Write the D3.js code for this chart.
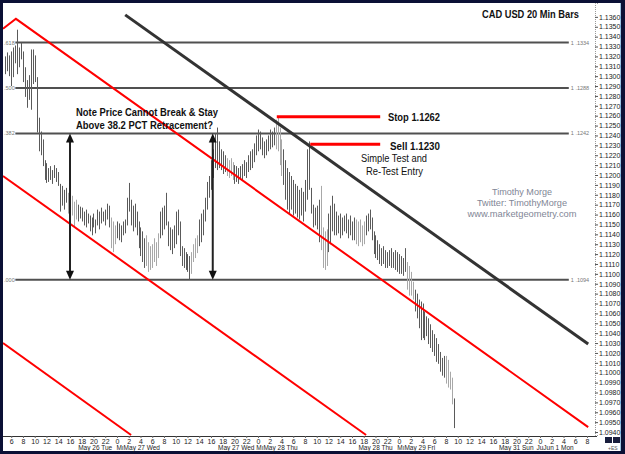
<!DOCTYPE html>
<html>
<head>
<meta charset="utf-8">
<script src="https://cdnjs.cloudflare.com/ajax/libs/d3/7.8.5/d3.min.js"></script>
<style>
body { margin: 0; background: #0b1035; }
svg { display: block; font-family: Arial, "Liberation Sans", sans-serif; }
</style>
</head>
<body>
<div id="chart"></div>
<script>
var width = 625;
var height = 454;

// 20 minute bars, first bar at May 26 05:00 (hours counted from May 26 00:00)
var firstBarHour = 5;
var barHighs = [
  1.1320,1.1324,1.1321,1.1325,1.1329,1.1331,1.1347,1.1329,1.1334,1.1325,
  1.1309,1.1296,1.1301,1.1327,1.1327,1.1321,1.1299,1.1258,1.1244,1.1236,
  1.1215,1.1212,1.1207,1.1209,1.1205,1.1210,1.1207,1.1203,1.1191,1.1189,
  1.1185,1.1187,1.1182,1.1177,1.1179,1.1173,1.1175,1.1170,1.1168,1.1167,
  1.1163,1.1165,1.1161,1.1159,1.1157,1.1161,1.1155,1.1165,1.1163,1.1167,
  1.1163,1.1165,1.1171,1.1169,1.1157,1.1153,1.1149,1.1153,1.1151,1.1149,
  1.1153,1.1155,1.1177,1.1192,1.1175,1.1169,1.1171,1.1163,1.1153,1.1147,
  1.1143,1.1136,1.1139,1.1132,1.1128,1.1130,1.1136,1.1132,1.1141,1.1163,
  1.1167,1.1169,1.1182,1.1153,1.1147,1.1145,1.1149,1.1163,1.1165,1.1153,
  1.1128,1.1126,1.1122,1.1120,1.1118,1.1122,1.1130,1.1136,1.1139,1.1155,
  1.1161,1.1165,1.1177,1.1193,1.1199,1.1215,1.1226,1.1242,1.1248,1.1234,
  1.1226,1.1224,1.1220,1.1217,1.1215,1.1217,1.1213,1.1210,1.1209,1.1207,
  1.1209,1.1211,1.1215,1.1213,1.1220,1.1224,1.1226,1.1232,1.1240,1.1246,
  1.1244,1.1238,1.1234,1.1236,1.1240,1.1246,1.1244,1.1248,1.1256,1.1258,
  1.1248,1.1236,1.1226,1.1215,1.1207,1.1203,1.1199,1.1195,1.1191,1.1189,
  1.1185,1.1187,1.1183,1.1195,1.1226,1.1234,1.1187,1.1170,1.1167,1.1169,
  1.1175,1.1189,1.1147,1.1143,1.1145,1.1161,1.1169,1.1179,1.1171,1.1163,
  1.1159,1.1161,1.1157,1.1159,1.1161,1.1155,1.1159,1.1153,1.1157,1.1155,
  1.1153,1.1155,1.1149,1.1153,1.1159,1.1161,1.1165,1.1157,1.1143,1.1139,
  1.1134,1.1130,1.1126,1.1128,1.1124,1.1122,1.1124,1.1126,1.1122,1.1124,
  1.1122,1.1120,1.1118,1.1116,1.1126,1.1112,1.1108,1.1102,1.1092,1.1084,
  1.1080,1.1074,1.1072,1.1070,1.1062,1.1057,1.1055,1.1049,1.1043,1.1039,
  1.1035,1.1029,1.1021,1.1015,1.1017,1.1017,1.1013,1.1001,1.0995,1.0974
];
var barLows = [
  1.1302,1.1305,1.1300,1.1290,1.1299,1.1313,1.1302,1.1309,1.1317,1.1294,
  1.1279,1.1268,1.1276,1.1266,1.1292,1.1294,1.1243,1.1224,1.1220,1.1209,
  1.1195,1.1192,1.1193,1.1195,1.1191,1.1197,1.1193,1.1189,1.1163,1.1169,
  1.1165,1.1172,1.1161,1.1151,1.1159,1.1148,1.1155,1.1153,1.1156,1.1153,
  1.1149,1.1147,1.1151,1.1143,1.1139,1.1147,1.1141,1.1149,1.1145,1.1151,
  1.1153,1.1149,1.1155,1.1147,1.1126,1.1122,1.1130,1.1136,1.1134,1.1132,
  1.1139,1.1141,1.1149,1.1163,1.1149,1.1143,1.1147,1.1139,1.1126,1.1118,
  1.1112,1.1106,1.1108,1.1102,1.1104,1.1106,1.1112,1.1108,1.1116,1.1136,
  1.1139,1.1145,1.1149,1.1128,1.1124,1.1120,1.1126,1.1130,1.1139,1.1118,
  1.1108,1.1106,1.1104,1.1102,1.1094,1.1100,1.1112,1.1116,1.1121,1.1128,
  1.1132,1.1139,1.1153,1.1165,1.1177,1.1185,1.1197,1.1207,1.1205,1.1207,
  1.1205,1.1201,1.1203,1.1199,1.1197,1.1199,1.1195,1.1191,1.1193,1.1191,
  1.1195,1.1195,1.1199,1.1197,1.1203,1.1205,1.1207,1.1213,1.1220,1.1224,
  1.1226,1.1220,1.1217,1.1220,1.1224,1.1226,1.1228,1.1230,1.1226,1.1224,
  1.1210,1.1199,1.1190,1.1175,1.1165,1.1161,1.1165,1.1159,1.1161,1.1157,
  1.1155,1.1159,1.1153,1.1163,1.1175,1.1185,1.1161,1.1147,1.1149,1.1145,
  1.1132,1.1124,1.1106,1.1104,1.1108,1.1122,1.1130,1.1143,1.1139,1.1139,
  1.1141,1.1136,1.1139,1.1143,1.1141,1.1136,1.1139,1.1134,1.1134,1.1130,
  1.1128,1.1132,1.1128,1.1130,1.1139,1.1143,1.1145,1.1134,1.1120,1.1116,
  1.1114,1.1110,1.1108,1.1110,1.1106,1.1106,1.1108,1.1106,1.1106,1.1104,
  1.1102,1.1100,1.1100,1.1098,1.1102,1.1084,1.1078,1.1078,1.1074,1.1062,
  1.1055,1.1045,1.1033,1.1035,1.1033,1.1037,1.1029,1.1025,1.1021,1.1017,
  1.1011,1.1009,1.1001,1.0997,1.0995,1.0989,1.0985,1.0983,1.0968,1.0944
];
// bar index ranges drawn in the lighter grey
var lightBarRanges = [[32,36],[54,56],[72,78],[95,98],[113,116],[138,141],[161,164],[179,183],[205,208],[225,228]];

// fibonacci retracement levels
var fibRatios = ['.618', '.500', '.382', '.000'];
var fibPrices = [1.1334, 1.1288, 1.1242, 1.1094];

// channel lines, points as [hour, price]
var redLines = [
  [[4.6, 1.1348], [6.8, 1.1358], [104.2, 1.0945]],
  [[4.6, 1.1199], [66.4, 1.0937]],
  [[4.6, 1.1030], [26.4, 1.0937]]
];
var blackLine = [[25.4, 1.1362], [104.2, 1.1029]];

var stopPrice = 1.1259, sellPrice = 1.1231;
var stopHours = [51.2, 68.8], sellHours = [56.9, 68.8];
var arrowHours = [16.0, 40.3];

var hourTicks = d3.range(6, 105, 2);
var dateLabels = [
  {hour: 17.4, text: 'May 26 Tue'},
  {hour: 23.9, text: 'MıMay 27 Wed'},
  {hour: 41.2, text: 'May 27 Wed'},
  {hour: 47.7, text: 'MıMay 28 Thu'},
  {hour: 65.1, text: 'May 28 Thu'},
  {hour: 71.7, text: 'MıMay 29 Fri'},
  {hour: 89.0, text: 'May 31 Sun'},
  {hour: 95.4, text: 'JuJun 1 Mon'}
];
var priceTicks = d3.range(1094, 1137).map(function(k) { return k / 1000; });

var x = d3.scaleLinear().domain([4.6, 105.7]).range([3, 597]);
var y = d3.scaleLinear().domain([1.0937, 1.1374]).range([435, 3]);

var svg = d3.select('#chart').append('svg')
    .attr('width', width)
    .attr('height', height);

svg.append('rect').attr('width', width).attr('height', height).attr('fill', '#0b1035');
svg.append('rect').attr('x', 3).attr('y', 3).attr('width', 617).attr('height', 448).attr('fill', '#ffffff');
svg.append('line').attr('x1', 620.5).attr('x2', 620.5).attr('y1', 3).attr('y2', 451)
    .attr('stroke', '#9ec3e0');

svg.append('clipPath').attr('id', 'plotclip')
  .append('rect').attr('x', 3).attr('y', 3).attr('width', 594).attr('height', 433);

var plot = svg.append('g').attr('clip-path', 'url(#plotclip)');

// fib lines
var fibStart = 6.7, fibEnd = 100.9;
fibPrices.forEach(function(p, i) {
  plot.append('line')
    .attr('x1', x(fibStart)).attr('x2', x(fibEnd))
    .attr('y1', y(p)).attr('y2', y(p))
    .attr('stroke', '#505050').attr('stroke-width', 2);
  svg.append('text')
    .attr('x', 4).attr('y', y(p) + 2)
    .attr('font-size', 5.5).attr('fill', '#777')
    .text(fibRatios[i]);
  svg.append('text')
    .attr('x', x(fibEnd) + 2).attr('y', y(p) + 2)
    .attr('font-size', 5.5).attr('fill', '#777')
    .text(p.toFixed(4).replace('1.', '1 .'));
});

// price bars
function isLight(i) {
  return lightBarRanges.some(function(r) { return i >= r[0] && i <= r[1]; });
}
plot.selectAll('.bar')
  .data(barHighs)
  .enter()
  .append('line')
  .attr('class', 'bar')
  .attr('x1', function(d, i) { return Math.round(x(firstBarHour + i / 3)) + 0.5; })
  .attr('x2', function(d, i) { return Math.round(x(firstBarHour + i / 3)) + 0.5; })
  .attr('y1', function(d) { return y(d); })
  .attr('y2', function(d, i) { return y(barLows[i]); })
  .attr('stroke', function(d, i) { return isLight(i) ? '#a8a8a8' : '#5a5a5a'; })
  .attr('stroke-width', 1);

var lineGen = d3.line()
  .x(function(d) { return x(d[0]); })
  .y(function(d) { return y(d[1]); });

redLines.forEach(function(pts) {
  plot.append('path').attr('d', lineGen(pts))
    .attr('fill', 'none').attr('stroke', '#ff0000').attr('stroke-width', 2);
});
plot.append('path').attr('d', lineGen(blackLine))
  .attr('fill', 'none').attr('stroke', '#333').attr('stroke-width', 3);

// stop / sell levels
plot.append('line')
  .attr('x1', x(stopHours[0])).attr('x2', x(stopHours[1]))
  .attr('y1', y(stopPrice)).attr('y2', y(stopPrice))
  .attr('stroke', '#ff0000').attr('stroke-width', 3);
plot.append('line')
  .attr('x1', x(sellHours[0])).attr('x2', x(sellHours[1]))
  .attr('y1', y(sellPrice)).attr('y2', y(sellPrice))
  .attr('stroke', '#ff0000').attr('stroke-width', 3);

// arrows between .382 and .000
arrowHours.forEach(function(h) {
  var ax = x(h), top = y(fibPrices[2]), bot = y(fibPrices[3]);
  plot.append('line').attr('x1', ax).attr('x2', ax)
    .attr('y1', top + 6).attr('y2', bot - 6)
    .attr('stroke', '#222').attr('stroke-width', 2);
  plot.append('path')
    .attr('d', 'M' + ax + ',' + top + 'L' + (ax - 4) + ',' + (top + 9) + 'L' + (ax + 4) + ',' + (top + 9) + 'Z')
    .attr('fill', '#111');
  plot.append('path')
    .attr('d', 'M' + ax + ',' + bot + 'L' + (ax - 4) + ',' + (bot - 9) + 'L' + (ax + 4) + ',' + (bot - 9) + 'Z')
    .attr('fill', '#111');
});

// axes
var yAxis = d3.axisRight(y)
  .tickValues(priceTicks)
  .tickFormat(d3.format('.4f'))
  .tickSize(3)
  .tickPadding(1);
var ya = svg.append('g').attr('transform', 'translate(595,0)').call(yAxis);
ya.select('.domain').attr('stroke', '#999').attr('stroke-dasharray', '1,1');
ya.selectAll('line').attr('stroke', '#555');
ya.selectAll('text').attr('font-size', 7).attr('fill', '#222').attr('font-family', 'Arial, sans-serif');

var xAxis = d3.axisBottom(x)
  .tickValues(hourTicks)
  .tickFormat(function(d) { return d % 24; })
  .tickSize(2)
  .tickPadding(1);
var xa = svg.append('g').attr('transform', 'translate(0,436)').call(xAxis);
xa.select('.domain').attr('d', 'M3,0.5H597').attr('stroke', '#333');
xa.selectAll('line').attr('stroke', '#666');
xa.selectAll('text').attr('font-size', 7).attr('fill', '#222').attr('font-family', 'Arial, sans-serif');

svg.selectAll('.datelabel')
  .data(dateLabels)
  .enter()
  .append('text')
  .attr('class', 'datelabel')
  .attr('x', function(d) { return x(d.hour); })
  .attr('y', 450)
  .attr('font-size', 6.5)
  .attr('fill', '#222')
  .text(function(d) { return d.text; });

// annotations
function label(txt, px, py, size, weight, len, color, anchor) {
  var t = svg.append('text')
    .attr('x', px).attr('y', py)
    .attr('font-size', size)
    .attr('font-weight', weight)
    .attr('fill', color || '#111')
    .attr('text-anchor', anchor || 'start')
    .text(txt);
  if (len) t.attr('textLength', len).attr('lengthAdjust', 'spacingAndGlyphs');
  return t;
}
label('CAD USD 20 Min Bars', 482, 18, 10, 'bold', 97);
label('Note Price Cannot Break & Stay', 76, 116, 10.5, 'bold', 142);
label('Above 38.2 PCT Retracement?', 76, 129, 10.5, 'bold', 137);
label('Stop 1.1262', 388, 121, 10, 'bold', 52);
label('Sell 1.1230', 390, 150, 10, 'bold', 50);
label('Simple Test and', 361, 162, 10, 'normal', 66);
label('Re-Test Entry', 366, 175, 10, 'normal', 57);
label('Timothy Morge', 522, 194.5, 9.5, 'normal', 60, '#7f8696', 'middle');
label('Twitter: TimothyMorge', 522, 205.5, 9.5, 'normal', 90, '#7f8696', 'middle');
label('www.marketgeometry.com', 522, 216.5, 9.5, 'normal', 109, '#7f8696', 'middle');

// small widgets in the bottom right corner
svg.append('rect').attr('x', 605).attr('y', 437).attr('width', 7).attr('height', 6).attr('fill', '#1a1f3d');
svg.append('rect').attr('x', 613).attr('y', 437).attr('width', 7).attr('height', 6).attr('fill', '#1a1f3d');
label('+ES', 608, 450, 5, 'normal', null, '#555');
</script>
</body>
</html>
